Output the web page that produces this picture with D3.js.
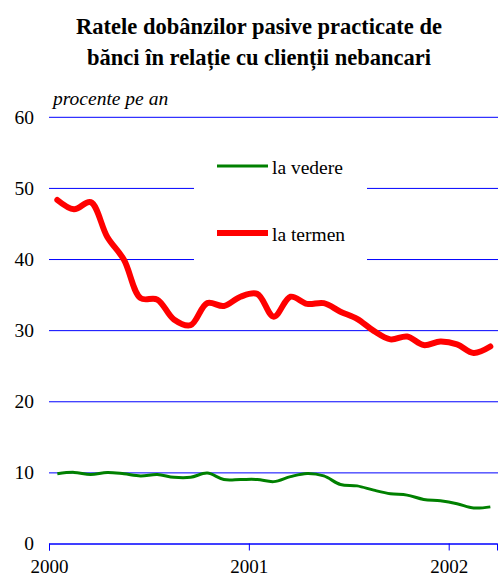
<!DOCTYPE html>
<html>
<head>
<meta charset="utf-8">
<script src="https://cdn.jsdelivr.net/npm/d3@7"></script>
<style>
  body { margin: 0; background: #fff; }
  svg { display: block; font-family: "Liberation Serif", "Times New Roman", serif; }
</style>
</head>
<body>
<svg id="canvas" width="498" height="576"></svg>
<script>
// monthly values, Jan 2000 - Mar 2002
var laVedere = [9.8, 10.0, 9.7, 10.0, 9.8, 9.5, 9.7, 9.3, 9.3, 9.9, 9.0, 9.0, 9.0,
  8.7, 9.4, 9.85, 9.5, 8.3, 8.1, 7.5, 7.0, 6.8, 6.2, 6.0, 5.6, 5.0, 5.15];
var laTermen = [48.3, 47.0, 48.0, 43.1, 39.9, 34.5, 34.3, 31.5, 30.7, 33.8, 33.4, 34.7, 35.1,
  31.9, 34.7, 33.7, 33.8, 32.6, 31.6, 29.9, 28.7, 29.1, 27.9, 28.4, 28.0, 26.8, 27.7];
var yTicks = [0, 10, 20, 30, 40, 50, 60];
var yearLabels = ['2000', '2001', '2002'];
var titleLines = ['Ratele dobânzilor pasive practicate de', 'bănci în relație cu clienții nebancari'];

var svg = d3.select('#canvas');

var x = d3.scaleLinear().domain([0, 26.9]).range([49, 497]);
var y = d3.scaleLinear().domain([0, 60]).range([543.5, 116.8]);

// title
svg.append('g')
  .selectAll('text')
  .data(titleLines)
  .enter()
  .append('text')
  .attr('x', 259)
  .attr('y', function (d, i) { return 34 + i * 31; })
  .attr('text-anchor', 'middle')
  .attr('font-weight', 'bold')
  .attr('font-size', 22.5)
  .text(function (d) { return d; });

svg.append('text')
  .attr('x', 53)
  .attr('y', 105)
  .attr('font-style', 'italic')
  .attr('font-size', 19.5)
  .text('procente pe an');

// gridlines + y labels
var yAxis = svg.append('g')
  .attr('transform', 'translate(49,0)')
  .call(d3.axisLeft(y).tickValues(yTicks).tickSize(-449).tickPadding(15).tickFormat(d3.format('d')));
yAxis.select('.domain').remove();
yAxis.selectAll('.tick line').attr('stroke', '#0000ff');
yAxis.selectAll('.tick text')
  .attr('font-size', 19.5)
  .attr('font-family', '"Liberation Serif", serif')
  .attr('fill', '#000');

// x axis
var xAxis = svg.append('g')
  .attr('transform', 'translate(0,' + y(0) + ')')
  .call(d3.axisBottom(x).tickValues([0, 12, 24]).tickSizeOuter(0).tickSize(7).tickPadding(9)
    .tickFormat(function (d, i) { return yearLabels[i]; }));
xAxis.select('.domain').attr('stroke', '#0000ff');
xAxis.selectAll('.tick line').attr('stroke', '#0000ff');
xAxis.selectAll('.tick text')
  .attr('font-size', 19)
  .attr('font-family', '"Liberation Serif", serif')
  .attr('fill', '#000');

// legend background hides the grid behind it
svg.append('rect')
  .attr('x', 194).attr('y', 150)
  .attr('width', 173).attr('height', 115)
  .attr('fill', '#fff');

var line = d3.line()
  .x(function (d, i) { return x(i + 0.5); })
  .y(function (d) { return y(d); })
  .curve(d3.curveCatmullRom);

svg.append('path')
  .datum(laVedere)
  .attr('d', line)
  .attr('fill', 'none')
  .attr('stroke', '#008000')
  .attr('stroke-width', 3);

svg.append('path')
  .datum(laTermen)
  .attr('d', line)
  .attr('fill', 'none')
  .attr('stroke', '#ff0000')
  .attr('stroke-width', 6)
  .attr('stroke-linecap', 'round');

// legend
var legend = [
  { name: 'la vedere', color: '#008000', width: 3, y: 166 },
  { name: 'la termen', color: '#ff0000', width: 6, y: 233 }
];
var lg = svg.append('g').selectAll('g').data(legend).enter().append('g');
lg.append('line')
  .attr('x1', 217).attr('x2', 268)
  .attr('y1', function (d) { return d.y; })
  .attr('y2', function (d) { return d.y; })
  .attr('stroke', function (d) { return d.color; })
  .attr('stroke-width', function (d) { return d.width; });
lg.append('text')
  .attr('x', 272)
  .attr('y', function (d) { return d.y + 8; })
  .attr('font-size', 19.5)
  .text(function (d) { return d.name; });
</script>
</body>
</html>
